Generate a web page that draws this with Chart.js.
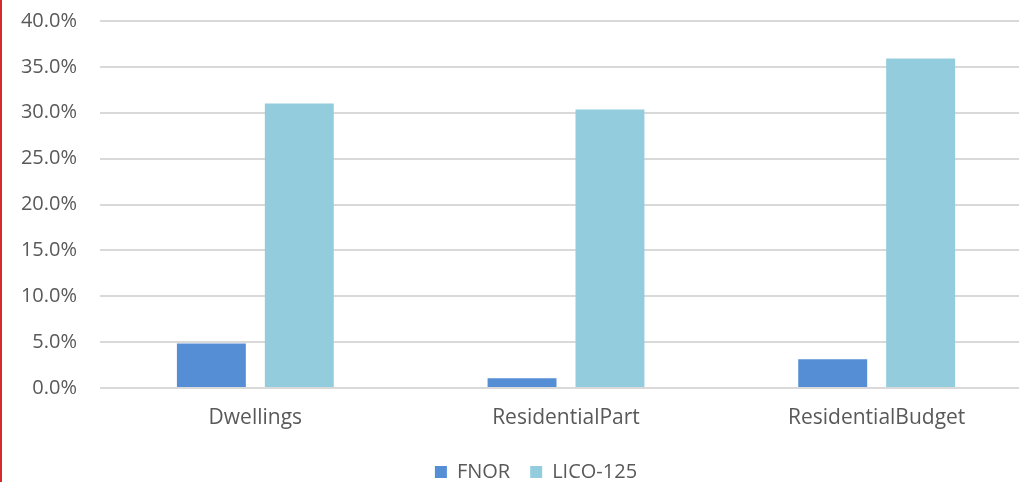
<!DOCTYPE html>
<html>
<head>
<meta charset="utf-8">
<script src="https://cdn.jsdelivr.net/npm/chart.js@4"></script>
<style>
    html, body { margin: 0; padding: 0; background: #fff; overflow: hidden; }
    body { width: 1019px; height: 482px; position: relative; }
    #wrap { position: absolute; left: 0; top: 0; width: 1032px; height: 492px; }
    #edge { position: absolute; left: 0; top: 0; width: 2px; height: 482px; background: #d42a2a; z-index: 2; }
</style>
</head>
<body>
<div id="edge"></div>
<div id="wrap"><canvas id="chart"></canvas></div>
<script>
const categories = ['Dwellings', 'ResidentialPart', 'ResidentialBudget'];
const fnorValues = [4.84, 1.06, 3.14];
const licoValues = [31.0, 30.35, 35.9];
const yTicks = [0, 5, 10, 15, 20, 25, 30, 35, 40];

const textColor = '#595959';
const fontFamily = '"Open Sans", sans-serif';

// the legend in the reference is centred a bit right of the canvas middle
const legendShift = {
    id: 'legendShift',
    afterLayout(chart) {
        if (chart.legend) chart.legend.left = 40;
    }
};

new Chart(document.getElementById('chart').getContext('2d'), {
    type: 'bar',
    data: {
        labels: categories,
        datasets: [
            {
                label: 'FNOR',
                data: fnorValues,
                backgroundColor: '#558ed5',
                borderWidth: 0
            },
            {
                label: 'LICO-125',
                data: licoValues,
                backgroundColor: '#93cddd',
                borderWidth: 0
            }
        ]
    },
    plugins: [legendShift],
    options: {
        responsive: true,
        maintainAspectRatio: false,
        animation: false,
        categoryPercentage: 0.566,
        barPercentage: 0.784,
        layout: {
            padding: { left: 0, right: 0, top: 21, bottom: 0 }
        },
        plugins: {
            tooltip: { enabled: false },
            legend: {
                position: 'bottom',
                labels: {
                    boxWidth: 12,
                    boxHeight: 12,
                    padding: 20,
                    color: textColor,
                    font: { family: fontFamily, size: 20 }
                }
            }
        },
        scales: {
            x: {
                grid: { display: false, drawTicks: false },
                border: { display: false },
                ticks: {
                    color: textColor,
                    padding: 17,
                    maxRotation: 0,
                    font: { family: fontFamily, size: 21 }
                },
                afterFit: function(scale) { scale.height = 54; }
            },
            y: {
                min: 0,
                max: 40,
                afterBuildTicks: function(scale) {
                    scale.ticks = yTicks.map(v => ({ value: v }));
                },
                grid: { color: '#d9d9d9', lineWidth: 2, drawTicks: false },
                border: { display: false },
                ticks: {
                    color: textColor,
                    padding: 23,
                    font: { family: fontFamily, size: 20 },
                    callback: v => v.toFixed(1) + '%'
                },
                afterFit: function(scale) {
                    scale.width = 100;
                    scale.paddingTop = 0;
                    scale.paddingBottom = 0;
                }
            }
        }
    }
});
</script>
</body>
</html>
